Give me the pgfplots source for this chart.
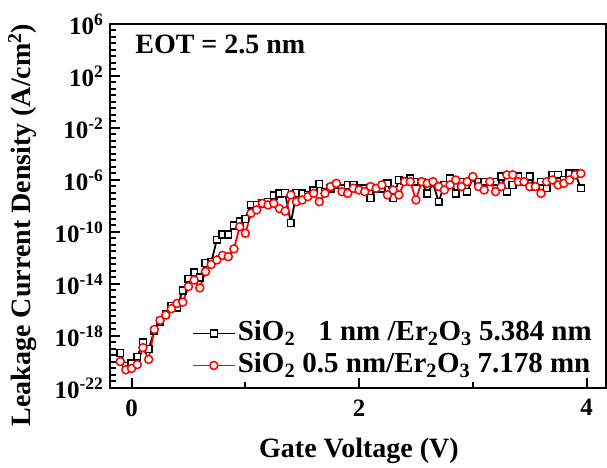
\documentclass[border=0pt]{standalone}
\usepackage{fontspec}
\setmainfont{Liberation Serif}
\usepackage{pgfplots}
\usepackage{pgfplotstable}
\pgfplotsset{compat=1.18}
\pgfplotstableread{
V J
-0.10 5.0e-20
-0.05 5.0e-21
0.00 7.9e-21
0.05 2.5e-20
0.10 3.2e-19
0.15 1.0e-19
0.20 2.5e-18
0.25 1.26e-17
0.30 5.0e-17
0.35 2.0e-16
0.40 1.58e-16
0.45 3.16e-15
0.50 2.5e-14
0.55 7.9e-14
0.60 3.16e-14
0.65 4.0e-13
0.70 5.0e-13
0.75 2.5e-11
0.80 6.3e-11
0.85 6.3e-11
0.90 3.16e-10
0.95 6.3e-10
1.00 1.0e-9
1.05 1.26e-8
1.10 1.26e-8
1.15 1.58e-8
1.20 2.0e-8
1.25 6.3e-8
1.30 8.9e-8
1.35 1.0e-7
1.40 5.0e-10
1.45 1.0e-7
1.50 8.9e-8
1.55 7.1e-8
1.60 1.58e-7
1.65 5.0e-7
1.70 1.26e-7
1.75 2.24e-7
1.80 4.0e-7
1.85 2.24e-7
1.90 4.0e-7
1.95 4.0e-7
2.00 2.24e-7
2.05 2.24e-7
2.10 4.0e-8
2.15 2.24e-7
2.20 2.24e-7
2.25 5.5e-7
2.30 4.0e-8
2.35 1.0e-6
2.40 7.9e-7
2.45 1.35e-6
2.50 7.4e-7
2.55 7.4e-7
2.60 9.3e-8
2.65 5.5e-7
2.70 2.14e-8
2.75 4.17e-7
2.80 1.35e-6
2.85 9.3e-8
2.90 7.4e-7
2.95 1.26e-7
3.00 1.35e-6
3.05 7.4e-7
3.10 7.4e-7
3.15 7.4e-7
3.20 7.4e-7
3.25 1.82e-6
3.30 1.26e-7
3.35 4.17e-7
3.40 1.82e-6
3.45 7.4e-7
3.50 1.82e-6
3.55 3.16e-7
3.60 7.4e-7
3.65 2.29e-7
3.70 2.5e-6
3.75 2.5e-6
3.80 1.0e-6
3.85 3.16e-6
3.90 3.16e-6
3.95 2.29e-7
}\blackdata
\pgfplotstableread{
V J
-0.10 1.07e-20
-0.05 2.5e-21
0.00 3.16e-21
0.05 6.3e-21
0.10 1.26e-19
0.15 1.58e-20
0.20 3.16e-18
0.25 1.58e-17
0.30 4.0e-17
0.35 1.26e-16
0.40 3.16e-16
0.45 4.0e-16
0.50 6.3e-15
0.55 2.0e-14
0.60 5.0e-15
0.65 8.9e-14
0.70 3.16e-13
0.75 7.1e-13
0.80 1.58e-12
0.85 1.26e-12
0.90 5.0e-12
0.95 2.5e-10
1.00 7.9e-11
1.05 2.75e-9
1.10 5.0e-9
1.15 1.58e-8
1.20 1.2e-8
1.25 1.58e-8
1.30 6.3e-9
1.35 4.0e-9
1.40 7.1e-8
1.45 2.14e-8
1.50 2.9e-8
1.55 5.2e-8
1.60 9.3e-8
1.65 2.14e-8
1.70 9.3e-8
1.75 3.1e-7
1.80 5.5e-7
1.85 1.26e-7
1.90 9.3e-8
1.95 2.29e-7
2.00 1.7e-7
2.05 1.26e-7
2.10 3.1e-7
2.15 2.29e-7
2.20 4.17e-7
2.25 7.1e-8
2.30 1.7e-7
2.35 7.1e-8
2.40 7.4e-7
2.45 7.4e-7
2.50 2.9e-8
2.55 7.4e-7
2.60 5.5e-7
2.65 7.4e-7
2.70 3.1e-7
2.75 1.7e-7
2.80 4.17e-7
2.85 1.0e-6
2.90 3.1e-7
2.95 7.4e-7
3.00 1.82e-6
3.05 3.1e-7
3.10 1.7e-7
3.15 7.4e-7
3.20 1.26e-7
3.25 3.1e-7
3.30 2.5e-6
3.35 2.5e-6
3.40 7.4e-7
3.45 7.4e-7
3.50 3.1e-7
3.55 3.1e-7
3.60 9.3e-8
3.65 7.4e-7
3.70 1.0e-6
3.75 4.17e-7
3.80 5.5e-7
3.85 1.0e-6
3.90 2.5e-6
3.95 3.16e-6
}\reddata
\begin{document}
\begin{tikzpicture}
\begin{axis}[
  scale only axis, width=496pt, height=364pt,
  at={(0pt,0pt)}, anchor=south west,
  ymode=log,
  xmin=-0.19, xmax=4.17, ymin=1e-22, ymax=1e6,
  axis line style={line width=2.2pt},
  tick style={black, line width=2pt},
  major tick length=10pt, minor tick length=6pt,
  xtick={0,2,4},
  minor xtick={1,3},
  ytick={1e-22,1e-18,1e-14,1e-10,1e-6,1e-2,1e2,1e6},
  minor ytick={3.162e-22,1e-21,3.162e-21,1e-20,3.162e-20,1e-19,3.162e-19,3.162e-18,1e-17,3.162e-17,1e-16,3.162e-16,1e-15,3.162e-15,3.162e-14,1e-13,3.162e-13,1e-12,3.162e-12,1e-11,3.162e-11,3.162e-10,1e-9,3.162e-9,1e-8,3.162e-8,1e-7,3.162e-7,3.162e-6,1e-5,3.162e-5,1e-4,3.162e-4,1e-3,3.162e-3,3.162e-2,1e-1,3.162e-1,1,3.162,1e1,3.162e1,3.162e2,1e3,3.162e3,1e4,3.162e4,1e5,3.162e5},
  xtick pos=left, ytick pos=left,
  xticklabels={0,2,4},
  yticklabels={10\textsuperscript{-22},10\textsuperscript{-18},10\textsuperscript{-14},10\textsuperscript{-10},10\textsuperscript{-6},10\textsuperscript{-2},10\textsuperscript{2},10\textsuperscript{6}},
  tick label style={font=\fontsize{25}{30}\selectfont\bfseries},
  xticklabel style={yshift=-8pt},
  yticklabel style={xshift=-3pt},
  xlabel={Gate Voltage (V)},
  ylabel={Leakage Current Density (A/cm\textsuperscript{2})},
  label style={font=\fontsize{28}{34}\selectfont\bfseries},
  xlabel style={at={(axis description cs:0.502,-0.19)}, anchor=base},
  ylabel style={at={(axis description cs:-0.177,0.448)}, anchor=center},
  legend cell align=left,
  legend style={at={(axis description cs:0.165,0.02)}, anchor=south west,
    draw=none, fill=none, inner sep=0pt,
    font=\fontsize{29}{34}\selectfont\bfseries,
    row sep=2pt,
    nodes={text height=20pt, text depth=6pt, inner sep=2pt}},
  legend image code/.code={\draw[mark repeat=2, mark phase=2] plot coordinates {(0pt,0pt) (21pt,0pt) (42pt,0pt)};},
]
\addplot[black, line width=1.8pt, mark=square*, mark size=3.4pt,
  mark options={fill=white, line width=1.5pt, draw=black}] table[x=V, y=J] {\blackdata};
\addlegendentry{SiO\textsubscript{2}\hspace{0.8em}1 nm /Er\textsubscript{2}O\textsubscript{3} 5.384 nm}
\addplot[red, line width=1.8pt, mark=*, mark size=4pt,
  mark options={fill=white, line width=1.5pt, draw=red}] table[x=V, y=J] {\reddata};
\addlegendentry{SiO\textsubscript{2} 0.5 nm/Er\textsubscript{2}O\textsubscript{3} 7.178 mn}
\node[anchor=base west, font=\fontsize{28}{34}\selectfont\bfseries] at (axis description cs:0.044,0.918) {EOT = 2.5 nm};
\end{axis}
\path (-110pt,-80pt) (497pt,388pt);
\end{tikzpicture}
\end{document}
